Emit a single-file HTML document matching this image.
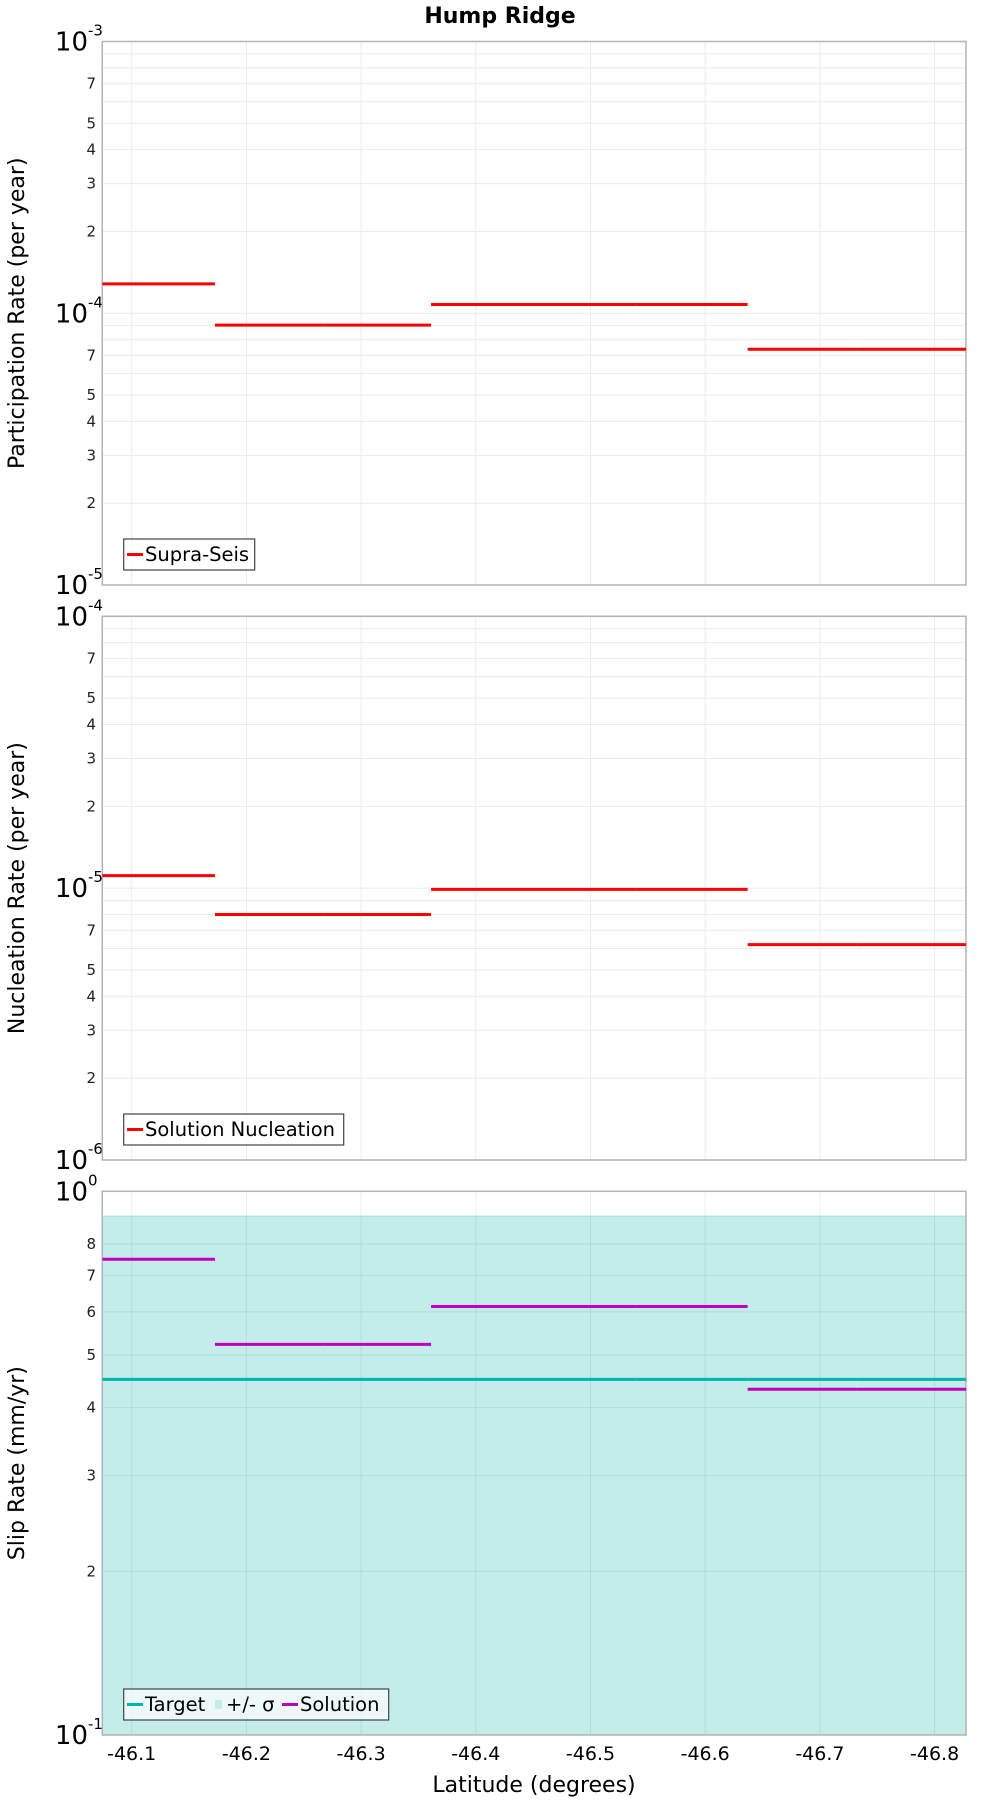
<!DOCTYPE html>
<html><head><meta charset="utf-8"><style>
body{margin:0;background:#fff}
svg{display:block;font-family:"DejaVu Sans","Liberation Sans",sans-serif}
</style></head><body>
<svg id="chart" width="1000" height="1800" viewBox="0 0 1000 1800" xmlns="http://www.w3.org/2000/svg">
<text x="500" y="23" text-anchor="middle" font-size="22" font-weight="bold">Hump Ridge</text>
<text x="534" y="1792" text-anchor="middle" font-size="22">Latitude (degrees)</text>
</svg>
<script>
const bounds = [-46.0744, -46.1726, -46.268, -46.361, -46.449, -46.539, -46.637, -46.732, -46.8274];
const partRates = [1.283e-4, 9.04e-5, 9.04e-5, 1.077e-4, 1.077e-4, 1.077e-4, 7.37e-5, 7.37e-5];
const nuclRates = [1.112e-5, 8.0e-6, 8.0e-6, 9.9e-6, 9.9e-6, 9.9e-6, 6.2e-6, 6.2e-6];
const slipSolution = [0.75, 0.523, 0.523, 0.614, 0.614, 0.614, 0.4325, 0.4325];
const slipTarget = [0.451, 0.451, 0.451, 0.451, 0.451, 0.451, 0.451, 0.451];
const slipUpper = [0.902, 0.902, 0.902, 0.902, 0.902, 0.902, 0.902, 0.902];
const slipLower = [0.0, 0.0, 0.0, 0.0, 0.0, 0.0, 0.0, 0.0];
const xTicks = [-46.1, -46.2, -46.3, -46.4, -46.5, -46.6, -46.7, -46.8];
const xTickLabels = ["-46.1","-46.2","-46.3","-46.4","-46.5","-46.6","-46.7","-46.8"];

const NS = "http://www.w3.org/2000/svg";
const svg = document.getElementById('chart');
const L = 102.3, R = 966;
function xs(lat){ return 131.7 + (-46.1 - lat) * 1147; }
function mk(tag, attrs, parent){
  const e = document.createElementNS(NS, tag);
  for (const k in attrs) e.setAttribute(k, attrs[k]);
  (parent || svg).appendChild(e);
  return e;
}

function panel(cfg){
  const g = mk('g', {});
  
  
  const top = cfg.top, bot = cfg.bot, d0 = cfg.d0, d1 = cfg.d1;
  const ys = v => bot - (Math.log10(v) - d0) / (d1 - d0) * (bot - top);
  if (cfg.band){
    const y1 = ys(cfg.band.upper[0]);
    const lo = cfg.band.lower[0] > 0 ? ys(cfg.band.lower[0]) : bot;
    const r = mk('rect', {x:L, y:y1, width:R-L, height:Math.min(lo,bot)-y1, fill:'#c3ecea'}, g);
    
    
  }
  const gridCol = cfg.band ? 'rgba(0,80,80,0.09)' : '#ebebeb';
  for (let d = d0; d < d1; d++){
    for (let m = 1; m <= 9; m++){
      const v = m * Math.pow(10, d);
      const y = ys(v);
      if (m > 1 || d > d0) mk('line', {x1:L, x2:R, y1:y, y2:y, stroke:gridCol, 'stroke-width':1}, g);
      if (m > 1 && cfg.labels.includes(m)){
        const t = mk('text', {x:96, y:y+5, 'text-anchor':'end', 'font-size':15, fill:'#222'}, g);
        t.textContent = String(m);
        
        
      }
    }
  }
  for (let d = d0; d <= d1; d++){
    const y = ys(Math.pow(10, d));
    const t = mk('text', {x:88, y:y+9, 'text-anchor':'end', 'font-size':26}, g);
    t.textContent = '10';
    
    
    const s = mk('text', {x:88, y:y-6, 'text-anchor':'start', 'font-size':15}, g);
    s.textContent = String(d);
    
    
  }
  xTicks.forEach(v => {
    mk('line', {x1:xs(v), x2:xs(v), y1:top, y2:bot, stroke:gridCol, 'stroke-width':1}, g);
  });
  const b = mk('rect', {x:L, y:top, width:R-L, height:bot-top, fill:'none', stroke:'#b3b3b3', 'stroke-width':1.5}, g);
  
  
  cfg.series.forEach(s => {
    for (let i = 0; i < s.values.length; i++){
      const y = ys(s.values[i]);
      const ln = mk('line', {x1:xs(bounds[i]), x2:xs(bounds[i+1]), y1:y, y2:y, stroke:s.color, 'stroke-width':3}, g);
      
      
    }
  });
  const yt = mk('text', {x:0, y:0, 'text-anchor':'middle', 'font-size':22, transform:`translate(24 ${(top+bot)/2}) rotate(-90)`}, g);
  yt.textContent = cfg.ytitle;
  
  
  const lg = mk('g', {}, g);
  
  
  const ly = bot - 46;
  mk('rect', {x:123.7, y:ly, width:cfg.legendW, height:31, fill:'rgba(255,255,255,0.7)', stroke:'#444', 'stroke-width':1.2}, lg);
  let lx = 127;
  cfg.legend.forEach(e => {
    if (e.sq){
      mk('rect', {x:lx+3, y:ly+11, width:7, height:9, fill:e.color}, lg);
      lx += 14;
    } else {
      mk('line', {x1:lx, x2:lx+16, y1:ly+15.5, y2:ly+15.5, stroke:e.color, 'stroke-width':3}, lg);
      lx += 18;
    }
    const t = mk('text', {x:lx, y:ly+22, 'font-size':19.5}, lg);
    t.textContent = e.label;
    
    
    lx += e.w;
  });
}

panel({name:'participation-panel', top:41.5, bot:585, d0:-5, d1:-3, labels:[2,3,4,5,7],
  ytitle:'Participation Rate (per year)', legendW:131,
  series:[{name:'supra-seis', values:partRates, color:'#ff0000'}],
  legend:[{label:'Supra-Seis', color:'#ff0000', w:100}]});
panel({name:'nucleation-panel', top:616.3, bot:1160, d0:-6, d1:-4, labels:[2,3,4,5,7],
  ytitle:'Nucleation Rate (per year)', legendW:220,
  series:[{name:'solution-nucleation', values:nuclRates, color:'#ff0000'}],
  legend:[{label:'Solution Nucleation', color:'#ff0000', w:190}]});
panel({name:'slip-rate-panel', top:1191.3, bot:1735, d0:-1, d1:0, labels:[2,3,4,5,6,7,8],
  ytitle:'Slip Rate (mm/yr)', legendW:265,
  band:{upper:slipUpper, lower:slipLower},
  series:[{name:'target', values:slipTarget, color:'#00b4b0'},{name:'solution', values:slipSolution, color:'#c000c0'}],
  legend:[{label:'Target', color:'#00b4b0', w:67},{label:'+/- σ', color:'#c3ecea', sq:true, w:56},{label:'Solution', color:'#c000c0', w:80}]});

xTicks.forEach((v, i) => {
  const t = mk('text', {x:xs(v), y:1760, 'text-anchor':'middle', 'font-size':19});
  t.textContent = xTickLabels[i];
  
  
});
</script>
</body></html>
